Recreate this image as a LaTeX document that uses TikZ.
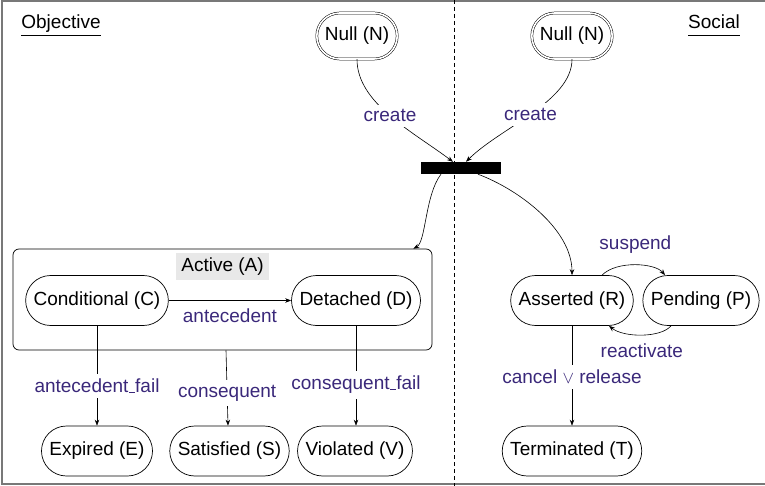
\documentclass[tikz,border=0pt]{standalone}
\usepackage{fontspec}
\setmainfont{Liberation Sans}
\usetikzlibrary{arrows.meta}
\definecolor{evtcol}{RGB}{58,40,122}
\definecolor{framecol}{RGB}{120,120,120}
\definecolor{actfill}{RGB}{232,232,232}
% underlined title with a fixed depth, so both titles sit on the same rule line
\newcommand\undl[1]{\underline{#1\rule[-0.26em]{0pt}{0pt}}}
% short low dash used inside event names
\newcommand\usc{\kern0.03em\rule[-0.02em]{0.29em}{0.06em}\kern0.03em}
\begin{document}
\begin{tikzpicture}[x=1pt,y=-1pt,
  font=\fontsize{19}{23}\selectfont,
  state/.style={draw, line width=0.7pt, rounded corners=25pt, minimum height=50pt, inner xsep=8pt},
  nullstate/.style={draw, double, double distance=1.6pt, line width=0.5pt, rounded corners=23pt, minimum height=46pt, inner xsep=8pt},
  evt/.style={text=evtcol, inner sep=2pt},
  gapevt/.style={evt, fill=white, inner xsep=3pt, inner ysep=5pt},
  arr/.style={-{Stealth[length=6pt,width=4.5pt]}, line width=0.6pt},
]
\useasboundingbox (0,0) rectangle (765,486);

% frame and the divider between the two views
\draw[framecol, line width=1.2pt] (766,1) -- (2,1) -- (2,484) -- (766,484);
\draw[line width=0.8pt, dash pattern=on 4pt off 3pt] (454,0) -- (454,486);

% view titles
\node (objt) at (61,25) {\undl{Objective}};
\node (soct) at (714,25) {\undl{Social}};

% initial states and the fork bar
\node[nullstate] (nl) at (357,36) {Null (N)};
\node[nullstate] (nr) at (572,36) {Null (N)};
\node[fill=black, minimum width=80pt, minimum height=12pt, inner sep=0pt] (bar) at (461,168) {};

% objective side
\node[draw, line width=0.7pt, rounded corners=6pt, minimum width=419pt, minimum height=101pt, inner sep=0pt] (act) at (222.5,299.5) {};
\node[fill=actfill, minimum height=27pt, inner xsep=5.5pt, inner ysep=0pt] (actl) at (222.5,266.5) {Active (A)};
\node[state] (C) at (97,300.5) {Conditional (C)};
\node[state] (D) at (356,300.5) {Detached (D)};
\node[state] (E) at (97,451) {Expired (E)};
\node[state] (S) at (229.5,451) {Satisfied (S)};
\node[state] (V) at (355,451) {Violated (V)};

% social side
\node[state] (R) at (572,300.5) {Asserted (R)};
\node[state] (P) at (701,300.5) {Pending (P)};
\node[state] (T) at (572,451) {Terminated (T)};

% creation
\draw[arr] (nl.south) .. controls +(0,44) and +(-40,-30) .. ([xshift=-8pt]bar.north)
  node[gapevt, pos=0.5] {create};
\draw[arr] (nr.south) .. controls +(0,42) and +(34,-34) .. ([xshift=5pt]bar.north)
  node[gapevt, pos=0.51] {create};
\draw[arr] ([xshift=-20pt]bar.south) .. controls (425,195) and (426,242) .. ([xshift=-19pt]act.north east);
\draw[arr] ([xshift=17pt]bar.south) .. controls (520,190) and (572,230) .. (R.north);

% objective transitions
\draw[arr] (C.east) -- (D.west) node[evt, midway, below=6pt] {antecedent};
\draw[arr] (C.south) -- (E.north) node[gapevt, pos=0.6] {antecedent\usc fail};
\draw[arr] ([xshift=3.5pt]act.south) -- ([xshift=-1.5pt]S.north) node[gapevt, pos=0.57] {consequent};
\draw[arr] (D.south) -- ([xshift=1pt]V.north) node[gapevt, pos=0.59] {consequent\usc fail};

% social transitions
\draw[arr] ([xshift=30pt]R.north) .. controls +(15,-15) and +(-10,-12) .. ([xshift=-36pt]P.north)
  node[evt, pos=0.5, above=9pt] {suspend};
\draw[arr] ([xshift=-30pt]P.south) .. controls +(-10,12) and +(15,12) .. ([xshift=37pt]R.south)
  node[evt, pos=0.5, below=7pt] {reactivate};
\draw[arr] (R.south) -- (T.north) node[gapevt, pos=0.51] {cancel $\vee$ release};
\end{tikzpicture}
\end{document}
